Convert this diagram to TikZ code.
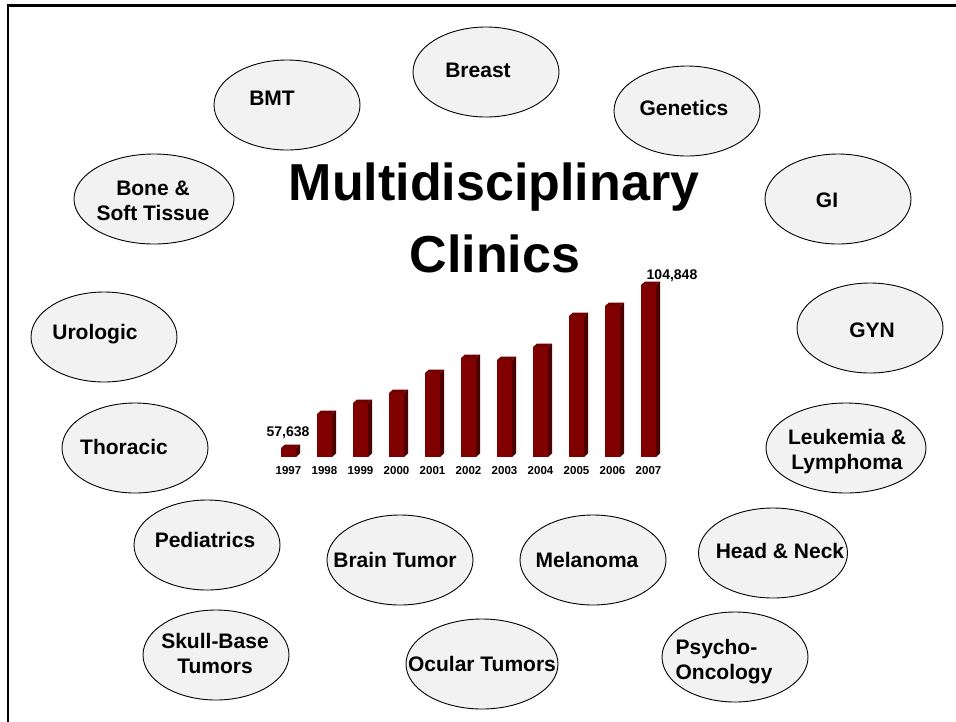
\documentclass[tikz,border=0pt]{standalone}
\usepackage{fontspec}
\setmainfont{Liberation Sans}
\usepackage{tikz}
\usetikzlibrary{shapes.geometric}
\definecolor{barfront}{RGB}{128,0,0}
\definecolor{barside}{RGB}{78,0,0}
\definecolor{bartop}{RGB}{112,0,0}
\tikzstyle{clinic}=[draw,fill=black!5,ellipse,line width=0.9pt,minimum width=146pt,minimum height=90pt,inner sep=0pt]
\tikzstyle{cname}=[font=\bfseries\fontsize{21}{25}\selectfont,align=center,inner sep=0pt]

\begin{document}
\begin{tikzpicture}[x=1pt,y=-1pt]
\useasboundingbox (0,0) rectangle (956,721);
\begin{scope}
\clip (0,0) rectangle (956,721);
\draw[line width=2.5pt] (8,5.5) rectangle (1000,760);
\end{scope}

% clinics round the chart
\node [clinic] (breast) at (486,72) {};
\node [cname] at (478,70) {Breast};
\node [clinic] (bmt) at (287,105) {};
\node [cname] at (272,98) {BMT};
\node [clinic,minimum width=160pt] (bone) at (154,199) {};
\node [cname] at (153,201) {Bone \&\\Soft Tissue};
\node [clinic] (genetics) at (687,111) {};
\node [cname] at (684,107.5) {Genetics};
\node [clinic] (gi) at (838,199) {};
\node [cname] at (827,200) {GI};
\node [clinic] (uro) at (104,337) {};
\node [cname] at (95,334) {Urologic};
\node [clinic] (gyn) at (870,328) {};
\node [cname] at (872,330) {GYN};
\node [clinic] (thoracic) at (135,448) {};
\node [cname] at (124,446.5) {Thoracic};
\node [clinic,minimum width=160pt] (leuk) at (846,448) {};
\node [cname] at (847,452) {Leukemia \&\\Lymphoma};
\node [clinic] (peds) at (207,545) {};
\node [cname] at (205,539.5) {Pediatrics};
\node [clinic] (brain) at (400,560) {};
\node [cname] at (395,560) {Brain Tumor};
\node [clinic] (melanoma) at (593,560) {};
\node [cname] at (587,560) {Melanoma};
\node [clinic,minimum width=149pt] (headneck) at (773,553) {};
\node [cname] at (780,551) {Head \& Neck};
\node [clinic] (skull) at (216,655) {};
\node [cname] at (215,653.5) {Skull-Base\\Tumors};
\node [clinic,minimum width=152pt] (ocular) at (482,664) {};
\node [cname] at (482,663.5) {Ocular Tumors};
\node [clinic] (psycho) at (735,657) {};
\node [cname,align=left] at (724,662) {Psycho-\\Oncology};

% title
\node [font=\bfseries\fontsize{52}{72}\selectfont,anchor=base,inner sep=0pt] (title) at (494,200) {Multidisciplinary};
\node [font=\bfseries\fontsize{52}{72}\selectfont,anchor=base,inner sep=0pt] (title2) at (495,272) {Clinics};

% bars, 1997 to 2007
\foreach \h [count=\i from 0] in {9,43,54,64,84,99,97,110,141,151,172} {
  \pgfmathsetmacro{\xl}{281+36*\i}
  \pgfmathtruncatemacro{\yr}{1997+\i}
  \fill[barside] (\xl+15,457) -- (\xl+19,453.5) -- (\xl+19,453.5-\h) -- (\xl+15,457-\h) -- cycle;
  \fill[bartop] (\xl,457-\h) -- (\xl+4,453.5-\h) -- (\xl+19,453.5-\h) -- (\xl+15,457-\h) -- cycle;
  \fill[barfront] (\xl,457) rectangle (\xl+15,457-\h);
  \node [font=\bfseries\fontsize{11.5}{13}\selectfont,inner sep=0pt] (y\yr) at (\xl+7.5,471) {\yr};
}
\node [font=\bfseries\fontsize{14}{16}\selectfont,inner sep=0pt] (first) at (288,433) {57,638};
\node [font=\bfseries\fontsize{14}{16}\selectfont,inner sep=0pt] (last) at (672,276) {104,848};
\end{tikzpicture}
\end{document}
